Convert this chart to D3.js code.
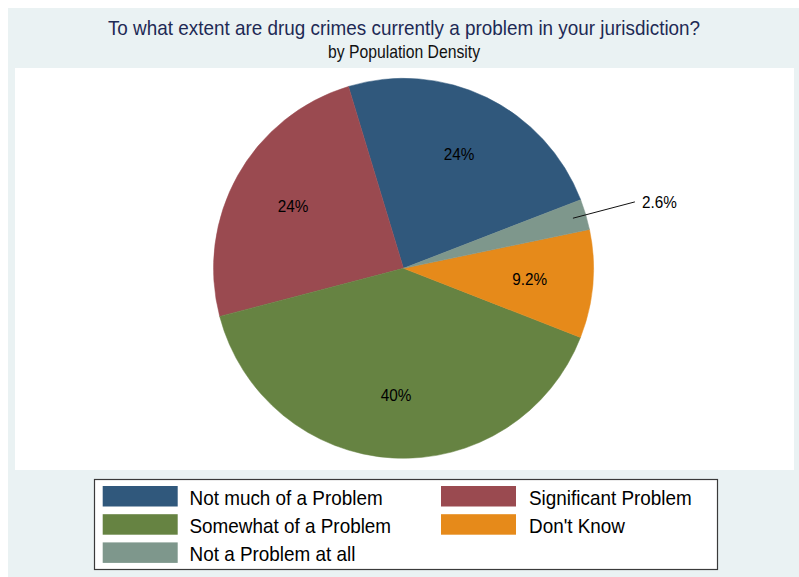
<!DOCTYPE html>
<html>
<head>
<meta charset="utf-8">
<script src="https://cdn.jsdelivr.net/npm/d3@7"></script>
<style>
	body { margin: 0; background: #fff; }
	text { font-family: "Liberation Sans", Arial, sans-serif; }
</style>
</head>
<body>
<svg id="chart" width="799" height="577"></svg>
<script>
const categories = ['Not much of a Problem', 'Significant Problem', 'Somewhat of a Problem', "Don't Know", 'Not a Problem at all'];
const values = [23.8, 24.4, 40.0, 9.2, 2.6];
const colours = ['#30587c', '#9a4a50', '#668342', '#e68a1a', '#7e978c'];
const title = 'To what extent are drug crimes currently a problem in your jurisdiction?';
const subtitle = 'by Population Density';
const outsideLabels = ['Not a Problem at all'];

const svg = d3.select('#chart');
const width = 799, height = 577;
const squeeze = 0.9;	// text in the reference is a bit narrow

// background + plot region
svg.append('rect').attr('x', 8).attr('y', 8).attr('width', width - 8).attr('height', height - 8).attr('fill', '#eaf2f3');
svg.append('rect').attr('x', 15).attr('y', 68).attr('width', 779).attr('height', 402).attr('fill', '#fff');

function label(g, x, y, txt, size, anchor, fill) {
	return g.append('text')
		.attr('transform', `translate(${x},${y}) scale(${squeeze},1)`)
		.attr('text-anchor', anchor)
		.attr('font-size', size)
		.attr('fill', fill || '#000')
		.text(txt);
}

label(svg, 404, 35, title, 21, 'middle', '#1e2a55');
label(svg, 404, 58, subtitle, 17.5, 'middle', '#111');

// pie
const cx = 403.5, cy = 268.3, R = 190;
const a0 = (90 - 21.15) * Math.PI / 180;	// first slice starts a bit above 3 o'clock, goes counterclockwise
const pie = d3.pie().sort(null).value(d => d.value).startAngle(a0).endAngle(a0 - 2 * Math.PI);
const arc = d3.arc().innerRadius(0).outerRadius(R);
const labelArc = d3.arc().innerRadius(R * 2 / 3).outerRadius(R * 2 / 3);
const pct = d3.format('.2r');

const data = categories.map((c, i) => ({ name: c, value: values[i], colour: colours[i] }));
const total = d3.sum(values);
const arcs = pie(data);

const gPie = svg.append('g').attr('transform', `translate(${cx},${cy})`);
gPie.selectAll('path')
	.data(arcs)
	.enter().append('path')
		.attr('d', arc)
		.attr('fill', d => d.data.colour)
		.attr('stroke', d => d.data.colour)
		.attr('stroke-width', 0.5);

arcs.forEach(d => {
	const txt = pct(d.data.value / total * 100) + '%';
	if (outsideLabels.indexOf(d.data.name) > -1) {
		const mid = (d.startAngle + d.endAngle) / 2;
		const p1 = [Math.sin(mid) * R * 0.93, -Math.cos(mid) * R * 0.93];
		const p2 = [Math.sin(mid) * R * 1.27, -Math.cos(mid) * R * 1.27 + 2];
		gPie.append('line')
			.attr('x1', p1[0]).attr('y1', p1[1])
			.attr('x2', p2[0]).attr('y2', p2[1])
			.attr('stroke', '#111').attr('stroke-width', 1);
		label(gPie, p2[0] + 7, p2[1] + 6, txt, 17, 'start');
	} else {
		const c = labelArc.centroid(d);
		label(gPie, c[0], c[1] + 6, txt, 17, 'middle');
	}
});

// legend
const gLeg = svg.append('g');
gLeg.append('rect').attr('x', 94.5).attr('y', 479.5).attr('width', 623).attr('height', 90)
	.attr('fill', '#fff').attr('stroke', '#3a3a3a').attr('stroke-width', 1.2);

const colX = [102.7, 441];
const textX = [189.5, 529];
data.forEach((d, i) => {
	const col = i % 2, row = Math.floor(i / 2);
	const y = 486 + row * 28.2;
	gLeg.append('rect').attr('x', colX[col]).attr('y', y).attr('width', 75).attr('height', 20.5).attr('fill', d.colour);
	label(gLeg, textX[col], y + 18.5, d.name, 21, 'start');
});
</script>
</body>
</html>
